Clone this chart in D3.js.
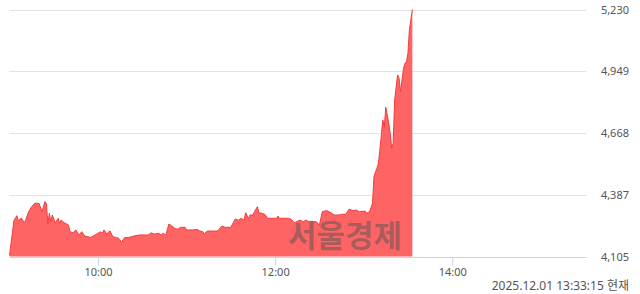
<!DOCTYPE html>
<html lang="ko">
<head>
<meta charset="UTF-8">
<title>서울경제 시세</title>
<style>
  html, body { margin: 0; padding: 0; background: #fff; }
  #CHART { display: block; }
  .tick-label { font-family: "Noto Sans", sans-serif; font-size: 11px; fill: #555; }
  .stamp { font-family: "Noto Sans", "Noto Sans CJK KR", sans-serif; font-size: 12px; fill: #555; }
  .mark { font-family: "Noto Sans CJK KR", sans-serif; font-size: 31px; font-weight: bold; fill: #555; fill-opacity: 0.5; }
</style>
</head>
<body>
<svg id="CHART"></svg>
<script src="https://cdnjs.cloudflare.com/ajax/libs/d3/7.8.5/d3.min.js"></script>
<script>
// ---- data ----
const times = ["9:00","9:03","9:05","9:06","9:08","9:10","9:11","9:13","9:15","9:17","9:20","9:22","9:24","9:25","9:26","9:27","9:28","9:29","9:31","9:33","9:34","9:35","9:37","9:38","9:40","9:41","9:43","9:45","9:47","9:49","9:51","9:53","9:55","9:58",
  "10:00","10:02","10:03","10:04","10:06","10:08","10:10","10:12","10:14","10:16","10:18","10:21","10:24","10:28","10:34","10:36","10:38","10:41","10:43","10:44","10:46","10:48","10:50","10:52","10:54","10:56","10:59",
  "11:00","11:04","11:07","11:09","11:11","11:12","11:14","11:18","11:21","11:24","11:26","11:30","11:33","11:35","11:37","11:39","11:40","11:42","11:43","11:45","11:46","11:48","11:49","11:51","11:53","11:55",
  "12:01","12:02","12:03","12:09","12:11","12:13","12:17","12:19","12:21","12:23","12:28","12:30","12:32","12:35","12:38","12:40","12:43","12:45","12:48","12:50","12:53","12:55","12:57",
  "13:01","13:02","13:04","13:06","13:07","13:09","13:10","13:11","13:13","13:14","13:15","13:17","13:18","13:19","13:20","13:21","13:23","13:24","13:25","13:27","13:28","13:29","13:30","13:31","13:33"];
const prices = [4110,4268,4291,4268,4280,4259,4271,4309,4332,4347,4347,4309,4355,4345,4253,4302,4263,4294,4259,4279,4256,4271,4259,4256,4248,4218,4213,4226,4203,4218,4198,4195,4192,4203,
  4211,4218,4211,4226,4207,4222,4195,4192,4188,4172,4191,4192,4198,4203,4203,4213,4207,4211,4203,4211,4203,4253,4244,4233,4229,4238,4238,
  4226,4226,4229,4221,4218,4207,4221,4221,4221,4244,4238,4238,4276,4270,4279,4270,4304,4279,4294,4294,4309,4332,4304,4302,4297,4279,
  4279,4289,4279,4279,4274,4259,4271,4263,4271,4263,4263,4248,4309,4314,4304,4294,4294,4297,4298,4320,4314,4317,4309,
  4312,4302,4309,4347,4470,4507,4530,4590,4727,4696,4785,4712,4666,4598,4621,4818,4932,4917,4856,4962,4985,4992,5030,5137,5230];

const xTicks = ["10:00", "12:00", "14:00"];
const yTicks = [4105, 4387, 4668, 4949, 5230];
const sessionStart = "9:00";
const sessionEnd = "15:30";
const stampText = "2025.12.01 13:33:15 현재";
const markText = "서울경제";

// ---- layout ----
const width = 640, height = 294;
const plotLeft = 9.5, plotRight = 585, plotTop = 9.5, plotBottom = 256.5, gridEnd = 586.5;

const toMin = s => { const [h, m] = s.split(":").map(Number); return h * 60 + m; };
const data = times.map((t, i) => ({ t: toMin(t), v: prices[i] }));

const svg = d3.select("#CHART")
  .attr("width", width)
  .attr("height", height)
  .attr("viewBox", [0, 0, width, height]);

const x = d3.scaleLinear()
  .domain([toMin(sessionStart), toMin(sessionEnd)])
  .range([plotLeft, plotRight]);

const y = d3.scaleLinear()
  .domain([d3.min(yTicks), d3.max(yTicks)])
  .range([plotBottom, plotTop]);

// horizontal grid
svg.append("g")
  .selectAll("line")
  .data(yTicks.slice(1))
  .join("line")
  .attr("x1", plotLeft)
  .attr("x2", gridEnd)
  .attr("y1", d => Math.round(y(d)) + 0.5)
  .attr("y2", d => Math.round(y(d)) + 0.5)
  .attr("stroke", "#e3e3e3");

// area
const area = d3.area()
  .x(d => x(d.t))
  .y0(y(d3.min(yTicks)))
  .y1(d => y(d.v));

const line = d3.line()
  .x(d => x(d.t))
  .y(d => y(d.v));

svg.append("path")
  .datum(data)
  .attr("d", area)
  .attr("fill", "#ff6464");

svg.append("path")
  .datum(data)
  .attr("d", line)
  .attr("fill", "none")
  .attr("stroke", "#f63c3c")
  .attr("stroke-width", 1);

// bottom axis
const xAxis = d3.axisBottom(x)
  .tickValues(xTicks.map(toMin))
  .tickFormat((d, i) => xTicks[i])
  .tickSize(8)
  .tickPadding(3);

const gx = svg.append("g")
  .attr("transform", `translate(0,${Math.round(plotBottom) + 0.5})`)
  .call(xAxis);
gx.select(".domain").attr("d", `M${plotLeft},0H${gridEnd}`).attr("stroke", "#c8d3e8");
gx.selectAll(".tick line").attr("stroke", "#c8d3e8");
gx.selectAll(".tick text").attr("class", "tick-label").attr("fill", null);

// right value labels
const yAxis = d3.axisRight(y)
  .tickValues(yTicks)
  .tickFormat(d3.format(","))
  .tickSize(0);

const gy = svg.append("g")
  .attr("transform", `translate(629,0)`)
  .call(yAxis);
gy.select(".domain").remove();
gy.selectAll(".tick text")
  .attr("class", "tick-label")
  .attr("fill", null)
  .attr("x", 0)
  .attr("text-anchor", "end");

// watermark
svg.append("text")
  .attr("class", "mark")
  .attr("x", 345)
  .attr("y", 247)
  .attr("text-anchor", "middle")
  .text(markText);

// timestamp
svg.append("text")
  .attr("class", "stamp")
  .attr("x", 629)
  .attr("y", 290)
  .attr("text-anchor", "end")
  .text(stampText);
</script>
</body>
</html>
